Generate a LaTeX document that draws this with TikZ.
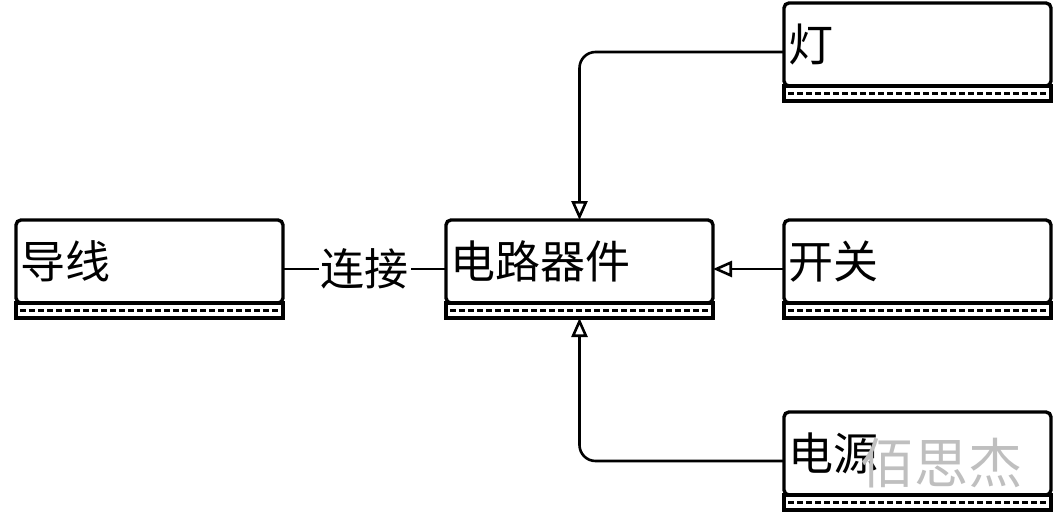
\documentclass[tikz,border=0pt]{standalone}
\usepackage{fontspec}
\usepackage{tikz}
\usetikzlibrary{arrows.meta,calc}
\newfontfamily\cjk{Noto Sans CJK SC}

\tikzset{
  cls/.style={draw, line width=3.4pt, rounded corners=5pt, anchor=north west, outer sep=0pt,
    minimum width=267pt, minimum height=83pt, text width=259pt, align=left,
    inner xsep=4pt, font=\cjk\fontsize{45}{46}\selectfont},
  strip/.style={draw, line width=3.4pt, anchor=north, outer sep=0pt, minimum width=267pt,
    minimum height=15pt, inner sep=0pt,
    path picture={\draw[line width=2.2pt, dash pattern=on 6pt off 3pt]
      ([xshift=4pt]path picture bounding box.west) -- ([xshift=-4pt]path picture bounding box.east);}},
  assoc/.style={line width=2.6pt, rounded corners=16pt,
    -{Triangle[open, length=19pt, width=16pt, line width=2.6pt]}},
  link/.style={line width=2.6pt},
}

\begin{document}
\begin{tikzpicture}[x=1pt, y=-1pt]
        \useasboundingbox (0,0) rectangle (1055,514);
        % classes
        \node[cls] (wire) at (16,220) {导线};
        \node[strip] (wire-s) at (wire.south) {};
        \node[cls] (part) at (446,220) {电路器件};
        \node[strip] (part-s) at (part.south) {};
        \node[cls] (lamp) at (784,3) {灯};
        \node[strip] (lamp-s) at (lamp.south) {};
        \node[cls] (switch) at (784,220) {开关};
        \node[strip] (switch-s) at (switch.south) {};
        \node[cls] (power) at (784,412) {电源};
        \node[strip] (power-s) at (power.south) {};
        % side points
        \coordinate (wire-e) at ($(wire.north east)!0.5!(wire-s.south east)$);
        \coordinate (part-w) at ($(part.north west)!0.5!(part-s.south west)$);
        \coordinate (part-e) at ($(part.north east)!0.5!(part-s.south east)$);
        \coordinate (lamp-w) at ($(lamp.north west)!0.5!(lamp-s.south west)$);
        \coordinate (switch-w) at ($(switch.north west)!0.5!(switch-s.south west)$);
        \coordinate (power-w) at ($(power.north west)!0.5!(power-s.south west)$);
        % connectors
        \draw[link] (wire-e) -- node[fill=white, inner sep=2pt, font=\cjk\fontsize{44}{46}\selectfont] (join) {连接} (part-w);
        \draw[assoc] (lamp-w) -| (part.north);
        \draw[assoc] (switch-w) -- (part-e);
        \draw[assoc] (power-w) -| (part-s.south);
        % watermark
        \node[text=black!25, font=\cjk\fontsize{54}{56}\selectfont] (mark) at (941,463) {佰思杰};
\end{tikzpicture}
\end{document}
